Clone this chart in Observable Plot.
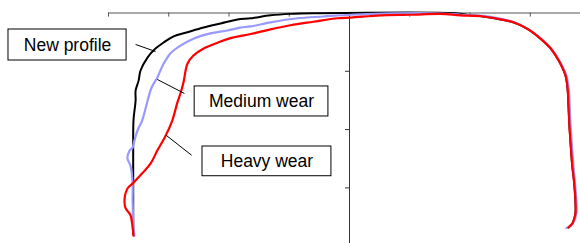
<!DOCTYPE html>
<html>
<head>
<meta charset="utf-8">
<script src="https://cdn.jsdelivr.net/npm/d3@7"></script>
<script src="https://cdn.jsdelivr.net/npm/@observablehq/plot@0.6"></script>
<style>
  html, body { margin: 0; padding: 0; background: #fff; }
  #chart svg { display: block; overflow: visible; }
</style>
</head>
<body>
<div id="chart"></div>
<script>
// Profile coordinates [lateral position, height]
const newProfile = [
  [-35.9, -38.0], [-35.9, -29.2], [-35.9, -23.6], [-35.85, -18.4], [-35.5, -15.0],
  [-35.5, -13.3], [-35.0, -11.6], [-34.7, -9.9], [-33.5, -7.6], [-32.2, -6.1],
  [-30.9, -5.1], [-29.2, -4.0], [-26.9, -3.3], [-24.2, -2.5], [-21.4, -1.8],
  [-18.6, -1.1], [-16.4, -0.9], [-13.1, -0.4], [-9.8, -0.15], [-6.0, -0.05],
  [17.6, -0.05], [20.0, -0.4], [22.2, -0.6], [25.1, -1.1], [27.2, -1.6],
  [29.5, -2.7], [31.7, -4.4], [33.4, -6.1], [34.7, -8.1], [35.85, -10.7],
  [36.2, -13.0], [36.35, -15.9], [36.5, -19.3], [36.7, -22.4], [37.0, -26.5],
  [37.2, -28.2], [37.5, -32.2], [37.5, -34.4], [37.0, -36.1], [36.35, -36.8]
];
const mediumWear = [
  [-35.7, -38.2], [-35.85, -36.4], [-36.0, -32.2], [-36.0, -29.2], [-36.35, -26.2],
  [-36.85, -24.95], [-36.5, -23.6], [-36.0, -23.1], [-35.7, -21.9], [-35.2, -20.2],
  [-34.4, -18.4], [-33.5, -15.0], [-32.9, -12.9], [-32.2, -11.6], [-31.9, -11.1],
  [-31.0, -9.0], [-29.7, -6.9], [-28.05, -5.6], [-25.9, -4.4], [-23.1, -3.5],
  [-20.25, -3.0], [-18.1, -2.5], [-16.4, -2.3], [-13.1, -1.6], [-8.6, -0.9],
  [-4.3, -0.6], [0.2, -0.3], [5.6, -0.1], [13.9, -0.05],
  [18.5, -0.3], [22.3, -0.5], [25.2, -1.0], [27.4, -1.6], [29.7, -2.8],
  [31.9, -4.5], [33.6, -6.3], [34.9, -8.3], [36.05, -10.9], [36.4, -13.2],
  [36.55, -16.0], [36.7, -19.4], [36.9, -22.5], [37.2, -26.6], [37.35, -28.3],
  [37.65, -32.2], [37.65, -34.5], [37.2, -35.8], [36.9, -36.3], [36.0, -36.9]
];
const heavyWear = [
  [-35.85, -38.2], [-36.0, -36.8], [-36.35, -34.7], [-37.2, -33.4], [-37.3, -31.6],
  [-36.85, -30.1], [-35.85, -29.1], [-34.4, -27.5], [-33.0, -25.8], [-31.9, -23.6],
  [-30.5, -21.0], [-29.4, -18.4], [-28.55, -15.3], [-28.0, -13.6], [-27.55, -11.9],
  [-26.9, -8.7], [-25.9, -7.3], [-24.2, -6.1], [-21.9, -5.1], [-19.75, -4.3],
  [-16.4, -3.6], [-13.1, -2.8], [-9.8, -2.1], [-6.0, -1.5], [-2.0, -0.9],
  [0.2, -0.8], [5.15, -0.4], [10.1, -0.3], [15.1, -0.15],
  [18.4, -0.4], [22.2, -0.6], [25.1, -1.1], [27.2, -1.6], [29.5, -2.7],
  [31.7, -4.4], [33.4, -6.1], [34.7, -8.1], [35.85, -10.7], [36.2, -13.0],
  [36.35, -15.9], [36.5, -19.3], [36.7, -22.4], [37.0, -26.5], [37.2, -28.2],
  [37.5, -32.2], [37.5, -34.4], [37.2, -35.6], [37.0, -36.1], [36.35, -36.8]
];

const xTicks = [-40, -30, -20, -10, 10, 20, 30];
const yTicks = [-10, -20, -30];
const xDomain = [-40, 38.34];
const yDomain = [-39.54, 0];

const labels = [
  {text: "New profile", x1: -56.6, x2: -37.0, y1: -2.83, y2: -8.15, lx1: -35.5, ly1: -5.4, lx2: -32.2, ly2: -6.6},
  {text: "Medium wear", x1: -25.7, x2: -3.5, y1: -12.6, y2: -17.75, lx1: -31.9, ly1: -11.4, lx2: -27.4, ly2: -13.8},
  {text: "Heavy wear", x1: -24.4, x2: -3.0, y1: -22.9, y2: -28.0, lx1: -30.4, ly1: -21.0, lx2: -26.2, ly2: -24.4}
];

const chart = Plot.plot({
  width: 580,
  height: 243,
  marginTop: 12.5,
  marginLeft: 108,
  marginRight: 0,
  marginBottom: 0,
  x: {domain: xDomain, axis: null},
  y: {domain: yDomain, axis: null},
  style: {background: "#fff", overflow: "visible"},
  marks: [
    // axes crossing at the origin
    Plot.ruleY([0], {x1: xDomain[0], x2: xDomain[1], stroke: "#555", strokeWidth: 1}),
    Plot.ruleX([0], {y1: 0, y2: yDomain[0], stroke: "#333", strokeWidth: 1}),
    Plot.ruleX(xTicks, {y1: 0, y2: -0.7, stroke: "#555", strokeWidth: 1}),
    Plot.ruleY(yTicks, {x1: -0.66, x2: 0, stroke: "#333", strokeWidth: 1}),
    // profiles
    Plot.line(newProfile, {x: d => d[0], y: d => d[1], stroke: "#000", strokeWidth: 2, curve: "catmull-rom"}),
    Plot.line(mediumWear, {x: d => d[0], y: d => d[1], stroke: "#9999ff", strokeWidth: 2.2, curve: "catmull-rom"}),
    Plot.line(heavyWear, {x: d => d[0], y: d => d[1], stroke: "#ff0000", strokeWidth: 2.2, curve: "catmull-rom"}),
    // annotation leaders and boxes
    Plot.link(labels, {x1: "lx1", y1: "ly1", x2: "lx2", y2: "ly2", stroke: "#000", strokeWidth: 1}),
    Plot.rect(labels, {x1: "x1", x2: "x2", y1: "y1", y2: "y2", fill: "#fff", stroke: "#000", strokeWidth: 1}),
    Plot.text(labels, {
      x: d => (d.x1 + d.x2) / 2, y: d => (d.y1 + d.y2) / 2, text: "text",
      fontSize: 17.5, fontFamily: "Liberation Sans, Arial, sans-serif", fill: "#000"
    })
  ]
});
document.getElementById("chart").appendChild(chart);
</script>
</body>
</html>
